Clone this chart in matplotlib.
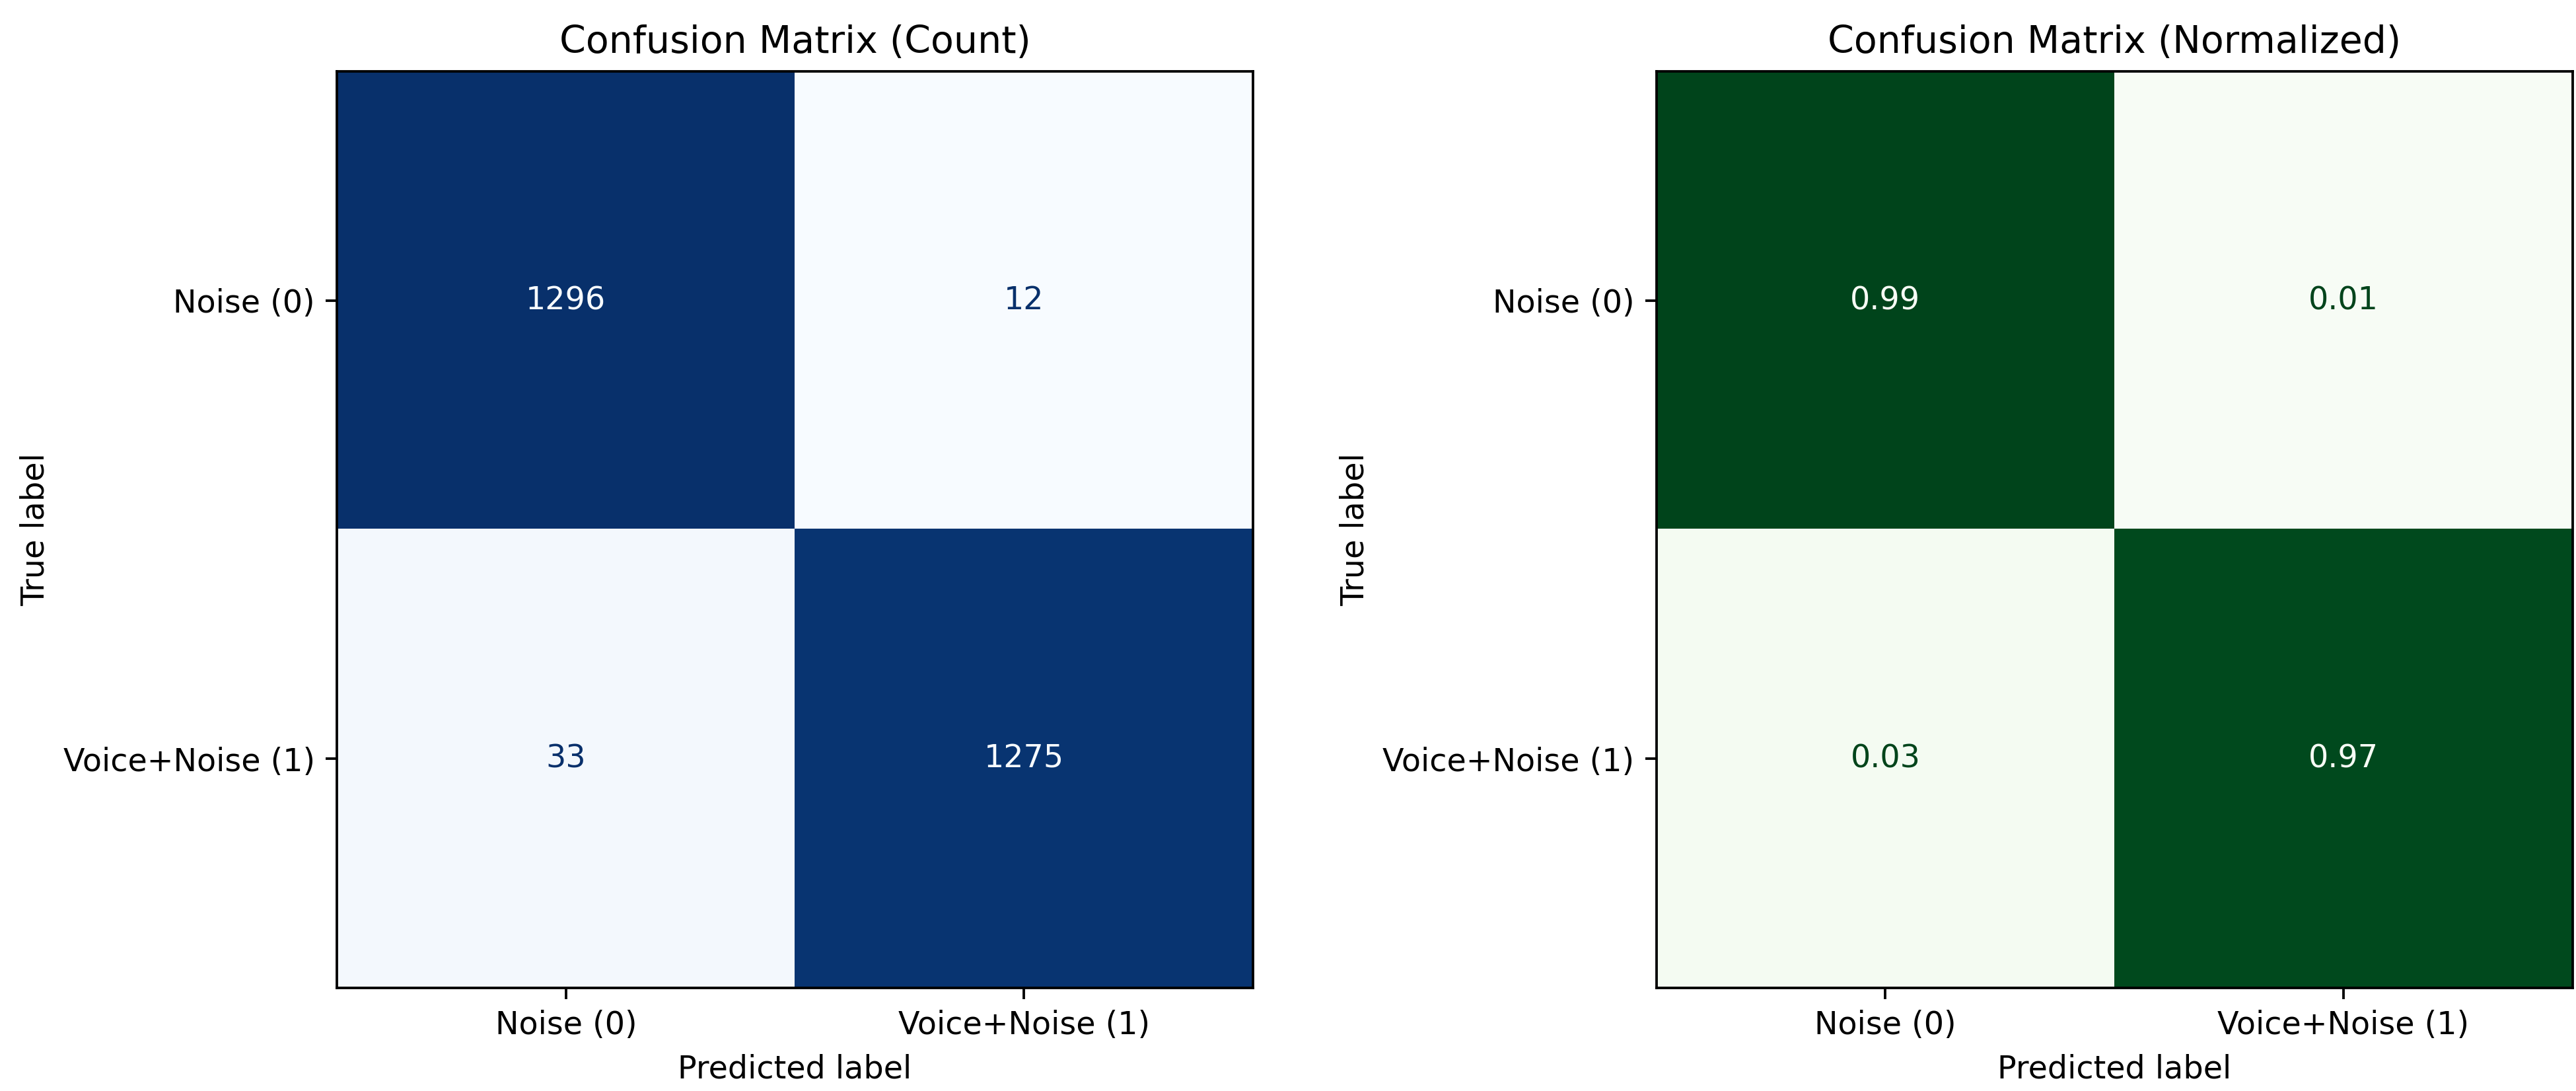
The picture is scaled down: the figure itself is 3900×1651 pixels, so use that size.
import numpy as np
import matplotlib
matplotlib.use("Agg")
import matplotlib.pyplot as plt

# reference looks like default sizes rendered at ~343 dpi; we draw at 300 dpi, so scale up
scale = 343 / 300
plt.rcParams["font.size"] = 10 * scale
plt.rcParams["axes.titlesize"] = 12 * scale
plt.rcParams["axes.linewidth"] = 0.8 * scale
plt.rcParams["xtick.major.size"] = 3.5 * scale
plt.rcParams["ytick.major.size"] = 3.5 * scale
plt.rcParams["xtick.major.width"] = 0.8 * scale
plt.rcParams["ytick.major.width"] = 0.8 * scale
plt.rcParams["xtick.major.pad"] = 3.5 * scale
plt.rcParams["ytick.major.pad"] = 3.5 * scale
plt.rcParams["axes.labelpad"] = 4.0 * scale
plt.rcParams["axes.titlepad"] = 6.0 * scale

class_names = ["Noise (0)", "Voice+Noise (1)"]
counts = np.array([[1296, 12],
                   [33, 1275]])
normalized = counts / counts.sum(axis=1, keepdims=True)


def draw_cm(ax, cm, cmap_name, fmt, title):
    cmap = plt.get_cmap(cmap_name)
    ax.imshow(cm, interpolation="nearest", cmap=cmap)
    cmap_min, cmap_max = cmap(0.0), cmap(1.0)
    thresh = (cm.max() + cm.min()) / 2.0
    for i in range(cm.shape[0]):
        for j in range(cm.shape[1]):
            color = cmap_max if cm[i, j] < thresh else cmap_min
            ax.text(j, i, format(cm[i, j], fmt), ha="center", va="center", color=color)
    ax.set_xticks(np.arange(len(class_names)))
    ax.set_yticks(np.arange(len(class_names)))
    ax.set_xticklabels(class_names)
    ax.set_yticklabels(class_names)
    ax.set_xlim(-0.5, cm.shape[1] - 0.5)
    ax.set_ylim(cm.shape[0] - 0.5, -0.5)
    ax.set_xlabel("Predicted label")
    ax.set_ylabel("True label")
    ax.set_title(title)


fig = plt.figure(figsize=(13, 5.5034), dpi=300)
ax1 = fig.add_axes([0.1308, 0.0945, 0.3556, 0.840])
ax2 = fig.add_axes([0.643, 0.0945, 0.3556, 0.840])

draw_cm(ax1, counts, "Blues", "d", "Confusion Matrix (Count)")
draw_cm(ax2, normalized, "Greens", ".2f", "Confusion Matrix (Normalized)")

fig.savefig("out.png", dpi=300)
